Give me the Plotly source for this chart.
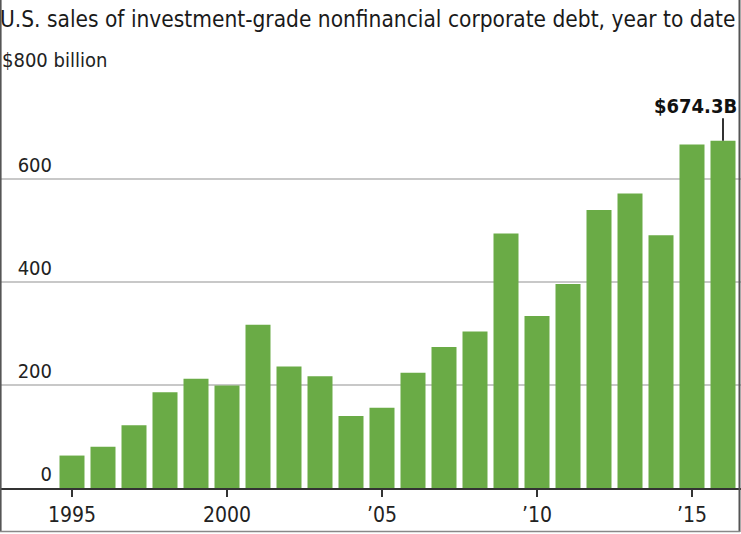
import plotly.graph_objects as go

years = list(range(1995, 2017))
sales = [63, 80, 122, 186, 212, 199, 317, 236, 217, 140, 156, 224, 274, 304,
         494, 334, 396, 540, 572, 491, 667, 674.3]
y_ticks = [0, 200, 400, 600, 800]
y_ticktext = ["0", "200", "400", "600", ""]
x_ticks = [1995, 2000, 2005, 2010, 2015]
x_ticktext = ["1995", "2000", "\u201905", "\u201910", "\u201915"]
title = "U.S. sales of investment-grade nonfinancial corporate debt, year to date"
unit_label = "$800 billion"
callout = "$674.3B"

FONT = "DejaVu Sans Condensed, Liberation Sans Narrow, Roboto, sans-serif"
GREEN = "#6aab46"
DARK = "#333333"

W, H = 741, 534
ML, MR, MT, MB = 0, 0, 76, 46

fig = go.Figure()
fig.add_trace(go.Bar(x=years, y=sales, marker=dict(color=GREEN, line=dict(width=0)),
                     hoverinfo="x+y"))

# x range chosen so 1995 sits at px 72 and each year spans 31 px
x0 = 1995 - 72 / 31
x1 = 1995 + (W - 72) / 31

def f(size, color="#222222"):
    return dict(size=size, family=FONT, color=color)

fig.update_layout(
    width=W, height=H,
    margin=dict(l=ML, r=MR, t=MT, b=MB),
    paper_bgcolor="white", plot_bgcolor="white",
    bargap=6 / 31,
    showlegend=False,
    font=f(20),
    title=dict(text=title, xref="container", yref="container", x=0.0, xanchor="left",
               y=1 - 19 / H, yanchor="middle", font=f(22.5, "#1a1a1a")),
    xaxis=dict(range=[x0, x1], tickmode="array", tickvals=x_ticks, ticktext=x_ticktext,
               ticks="outside", ticklen=7, tickwidth=2, tickcolor=DARK,
               showline=True, linecolor=DARK, linewidth=2, showgrid=False, zeroline=False,
               tickfont=f(21)),
    yaxis=dict(range=[0, 800], tickmode="array", tickvals=y_ticks, ticktext=y_ticktext,
               anchor="free", position=52 / W, side="left",
               ticklabelposition="outside top", ticks="", showline=False,
               showgrid=True, gridcolor="#c8c8c8", gridwidth=2, zeroline=False,
               tickfont=f(20)),
)

# "$800 billion" label above the top gridline
fig.add_annotation(text=unit_label, xref="paper", yref="y", x=0.0, y=y_ticks[-1],
                   xanchor="left", yanchor="bottom", showarrow=False, yshift=2,
                   font=f(20))

# callout for the last bar
fig.add_shape(type="line", xref="x", yref="y", x0=years[-1], x1=years[-1],
              y0=sales[-1], y1=718, line=dict(color=DARK, width=2))
fig.add_annotation(text="<b>" + callout + "</b>", xref="x", yref="y", x=years[-1], y=718,
                   xanchor="right", yanchor="bottom", xshift=16, yshift=-2, showarrow=False,
                   font=f(20, "#111111"))

# frame around the graphic
ph = H - MT - MB
def py(px):
    return (H - MB - px) / ph
fig.add_shape(type="line", xref="paper", yref="paper", x0=0.6 / W, x1=0.6 / W,
              y0=py(0), y1=py(532), line=dict(color="#555555", width=2))
fig.add_shape(type="line", xref="paper", yref="paper", x0=739.5 / W, x1=739.5 / W,
              y0=py(0), y1=py(532), line=dict(color="#555555", width=2))
fig.add_shape(type="line", xref="paper", yref="paper", x0=0, x1=740 / W,
              y0=py(531.5), y1=py(531.5), line=dict(color="#888888", width=1.5))

fig.write_html("out.html", config={"displayModeBar": False},
               post_script="document.body.style.margin='0';document.body.style.overflow='hidden';")
